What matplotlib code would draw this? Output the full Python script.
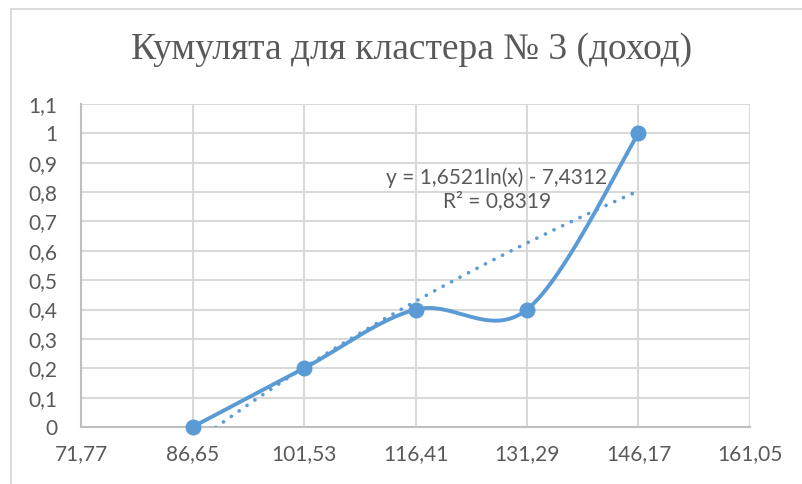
import numpy as np
import matplotlib
matplotlib.use('Agg')
import matplotlib.pyplot as plt
from matplotlib.lines import Line2D
from matplotlib.ticker import FuncFormatter

# cumulative share by income interval
x_vals = [86.65, 101.53, 116.41, 131.29, 146.17]
y_vals = [0.0, 0.2, 0.4, 0.4, 1.0]
x_ticks = [71.77, 86.65, 101.53, 116.41, 131.29, 146.17, 161.05]
y_ticks = [0, 0.1, 0.2, 0.3, 0.4, 0.5, 0.6, 0.7, 0.8, 0.9, 1.0, 1.1]

# logarithmic trend coefficients
trend_a = 1.6521
trend_b = -7.4312
r_squared = 0.8319

title = 'Кумулята для кластера № 3 (доход)'

blue = '#5B9BD5'
grey_text = '#595959'
grid_col = '#D9D9D9'


def smooth(xs, ys, n=60):
    # Catmull-Rom style bezier smoothing like spreadsheet "smoothed line"
    pts = np.column_stack([xs, ys]).astype(float)
    p = np.vstack([pts[0], pts, pts[-1]])
    out = []
    for i in range(1, len(p) - 2):
        p0, p1, p2, p3 = p[i - 1], p[i], p[i + 1], p[i + 2]
        c1 = p1 + (p2 - p0) / 6.0
        c2 = p2 - (p3 - p1) / 6.0
        t = np.linspace(0, 1, n)[:, None]
        seg = ((1 - t) ** 3) * p1 + 3 * ((1 - t) ** 2) * t * c1 \
            + 3 * (1 - t) * t ** 2 * c2 + t ** 3 * p2
        out.append(seg if i == 1 else seg[1:])
    seg = np.vstack(out)
    return seg[:, 0], seg[:, 1]


def dec(s):
    return str(s).replace('.', ',')


plt.rcParams['font.family'] = ['Lato', 'DejaVu Sans']

fig = plt.figure(figsize=(8.03, 4.84), dpi=100)

# chart area frame (only top and left edges fall inside the image)
x0, y1 = 11.5 / 803, 1 - 8.5 / 484
fig.lines.append(Line2D([x0, 1.01], [y1, y1], transform=fig.transFigure,
                        color=grid_col, linewidth=1.3))
fig.lines.append(Line2D([x0, x0], [-0.01, y1], transform=fig.transFigure,
                        color=grid_col, linewidth=1.3))

ax = fig.add_axes([81 / 803, 57 / 484, 669 / 803, 323 / 484])
ax.set_xlim(x_ticks[0], x_ticks[-1])
ax.set_ylim(y_ticks[0], y_ticks[-1])
ax.set_xticks(x_ticks)
ax.set_yticks(y_ticks)
ax.xaxis.set_major_formatter(FuncFormatter(lambda v, p: dec('%.2f' % v)))
ax.yaxis.set_major_formatter(FuncFormatter(lambda v, p: dec('%g' % round(v, 1))))
ax.tick_params(length=0, labelsize=15, labelcolor=grey_text)
ax.tick_params(axis='x', pad=12)
ax.tick_params(axis='y', pad=17)
ax.grid(True, color=grid_col, linewidth=1.5)
ax.set_axisbelow(True)
for side in ['top', 'right']:
    ax.spines[side].set_visible(False)
for side in ['left', 'bottom']:
    ax.spines[side].set_color('#BFBFBF')
    ax.spines[side].set_linewidth(1.5)

# trend line
tx = np.linspace(x_vals[0], x_vals[-1], 200)
ty = trend_a * np.log(tx) + trend_b
ax.plot(tx, ty, color=blue, linewidth=2.6, linestyle=(0, (0.05, 2.6)),
        dash_capstyle='round', zorder=3)

# smoothed data line with markers
sx, sy = smooth(x_vals, y_vals)
ax.plot(sx, sy, color=blue, linewidth=2.8, solid_capstyle='round', zorder=4)
ax.plot(x_vals, y_vals, 'o', color=blue, markersize=10.5, zorder=5, clip_on=False)

eq = 'y = %sln(x) - %s\nR² = %s' % (dec(trend_a), dec(-trend_b), dec(r_squared))
fig.text(497 / 803, 1 - 189 / 484, eq, ha='center', va='center', fontsize=15,
         color=grey_text, linespacing=1.2, zorder=6)

fig.text(412 / 803, 1 - 50 / 484, title, ha='center', va='center', fontsize=27,
         color=grey_text, family=['Liberation Serif', 'DejaVu Serif'])

fig.savefig('out.png', dpi=100)
